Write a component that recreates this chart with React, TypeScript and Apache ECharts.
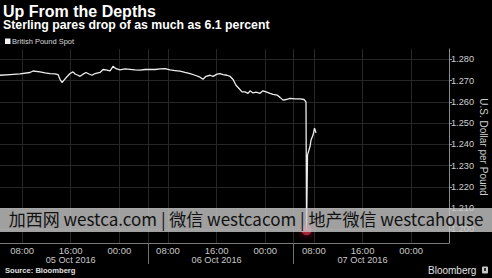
import React, { useEffect, useRef } from "react";
import * as echarts from "echarts";

// Hours counted from 00:00, 05 Oct 2016 (chart's local time)
const hours = [
  4.37, 6.02, 7.66, 9.31, 9.8, 10.95, 11.78, 12.6, 13.42, 13.91, 14.24, 14.57, 14.9, 15.23,
  15.89, 16.38, 16.71, 17.2, 17.53, 18.03, 18.52, 19.01, 19.51, 20.0, 20.82, 21.32, 21.97,
  22.47, 22.96, 23.45, 24.11, 24.93, 25.76, 26.58, 27.4, 28.22, 29.05, 29.87, 30.69, 31.51,
  32.34, 33.16, 33.98, 34.8, 35.63, 36.45, 37.27, 37.76, 38.26, 38.91, 39.41, 40.07, 40.56,
  41.05, 41.71, 42.2, 42.7, 43.19, 43.68, 44.18, 44.67, 45.17, 45.49, 45.99, 46.48, 47.14,
  47.63, 48.13, 48.78, 49.28, 49.93, 50.43, 50.92, 51.41, 52.07, 52.89, 53.72, 54.37, 54.7,
  54.79, 54.95, 55.36, 55.53, 55.86, 56.1, 56.35,
];
const prices = [
  1.2725, 1.2728, 1.2731, 1.2738, 1.2745, 1.2741, 1.2736, 1.2733, 1.2731, 1.2728, 1.2706,
  1.2691, 1.2702, 1.2713, 1.2733, 1.2741, 1.2731, 1.2725, 1.272, 1.273, 1.2738, 1.2731,
  1.2725, 1.2733, 1.2738, 1.2752, 1.2749, 1.2746, 1.2767, 1.2756, 1.275, 1.2755, 1.2753,
  1.275, 1.2749, 1.2752, 1.2753, 1.2752, 1.2755, 1.2756, 1.275, 1.2747, 1.2744, 1.2738,
  1.2733, 1.2725, 1.2716, 1.2706, 1.272, 1.2725, 1.272, 1.273, 1.2733, 1.2728, 1.2725,
  1.272, 1.2705, 1.2678, 1.2663, 1.2647, 1.2647, 1.264, 1.2652, 1.2642, 1.2646, 1.264,
  1.2652, 1.2647, 1.264, 1.2635, 1.2632, 1.2621, 1.2608, 1.2611, 1.2616, 1.2614, 1.2614,
  1.2611, 1.26, 1.1997, 1.2351, 1.239, 1.2421, 1.2444, 1.2476, 1.2454,
];
const lowHour = 54.79;
const lowPrice = 1.1997;

const yTicks = [1.2, 1.21, 1.22, 1.23, 1.24, 1.25, 1.26, 1.27, 1.28];
const xTicks = [8, 16, 24, 32, 40, 48, 56, 64, 72];
const timeLabels = ["08:00", "16:00", "00:00", "08:00", "16:00", "00:00", "08:00", "16:00", "00:00"];
const dateLabels = ["", "05 Oct 2016", "", "", "06 Oct 2016", "", "", "07 Oct 2016", ""];
const daySeparators = [28.7, 52.6];

const TITLE = "Up From the Depths";
const SUBTITLE = "Sterling pares drop of as much as 6.1 percent";
const SERIES_NAME = "British Pound Spot";
const Y_NAME = "U.S. Dollar per Pound";
const SOURCE = "Source: Bloomberg";
const WATERMARK = "加西网 westca.com | 微信 westcacom | 地产微信 westcahouse";

export default function App() {
  const ref = useRef<HTMLDivElement>(null);
  useEffect(() => {
    if (!ref.current) return;
    const chart = echarts.init(ref.current, null, { renderer: "svg" });
    const lineData = hours.map((h, i) => [h, prices[i]]);
    const gridColor = "#262626";
    const font = "'Liberation Sans', Arial, sans-serif";
    chart.setOption({
      animation: false,
      backgroundColor: "#000000",
      grid: { left: 0, right: 43, top: 49, bottom: 35, containLabel: false, outerBoundsMode: "none" },
      xAxis: {
        type: "value",
        min: 4.37,
        max: 78.22,
        position: "bottom",
        axisLine: { show: true, lineStyle: { color: "#7a7a7a", width: 1 } },
        axisTick: { show: true, customValues: daySeparators, length: 21, lineStyle: { color: "#707070" } },
        splitLine: { show: false },
        axisLabel: {
          customValues: xTicks,
          margin: 2,
          color: "#c8c8c8",
          fontFamily: font,
          formatter: (v: number) => {
            const i = xTicks.indexOf(Math.round(v));
            if (i < 0) return "";
            return dateLabels[i] ? `{t|${timeLabels[i]}}\n{d|${dateLabels[i]}}` : `{t|${timeLabels[i]}}`;
          },
          rich: {
            t: { fontSize: 9.5, lineHeight: 10, color: "#c8c8c8", fontFamily: font },
            d: { fontSize: 9.2, lineHeight: 10, color: "#c8c8c8", fontFamily: font },
          },
        },
      },
      yAxis: {
        type: "value",
        position: "right",
        min: 1.19365,
        max: 1.28484,
        axisLine: { show: true, lineStyle: { color: "#8a8a8a", width: 1 } },
        axisTick: { show: true, customValues: yTicks, length: 3, inside: false, lineStyle: { color: "#9a9a9a" } },
        splitLine: { show: false },
        axisLabel: {
          customValues: yTicks,
          margin: 2,
          color: "#cfcfcf",
          fontSize: 9.2,
          fontFamily: font,
          formatter: (v: number) => v.toFixed(3),
        },
      },
      series: [
        {
          name: SERIES_NAME,
          type: "line",
          data: lineData,
          showSymbol: false,
          symbol: "none",
          lineStyle: { color: "#ededed", width: 1.3 },
          z: 3,
          markLine: {
            silent: true,
            symbol: "none",
            label: { show: false },
            lineStyle: { color: gridColor, width: 1, type: "solid" },
            z: 1,
            data: [
              ...xTicks.map((x) => ({ xAxis: x })),
              ...daySeparators.map((x) => ({ xAxis: x })),
              ...yTicks.map((y) => ({ yAxis: y })),
            ],
          },
        },
        {
          type: "scatter",
          data: [[lowHour, lowPrice]],
          symbolSize: 10,
          itemStyle: { color: "rgba(225,50,80,0.85)", shadowBlur: 8, shadowColor: "rgba(255,30,70,0.9)" },
          z: 4,
        },
      ],
      graphic: [
        {
          type: "text", left: 3, top: 3, z: 100,
          style: { text: TITLE, fill: "#ffffff", font: `bold 16px ${font}` },
        },
        {
          type: "text", left: 3, top: 19, z: 100,
          style: { text: SUBTITLE, fill: "#ffffff", font: `bold 12.3px ${font}` },
        },
        { type: "rect", left: 5, top: 38.5, z: 100, shape: { width: 5.5, height: 5.5 }, style: { fill: "#f2f2f2" } },
        {
          type: "text", left: 12, top: 37, z: 100,
          style: { text: SERIES_NAME, fill: "#d8d8d8", font: `7.5px ${font}` },
        },
        {
          type: "text", x: 483, y: 147, rotation: -Math.PI / 2, z: 100,
          style: {
            text: Y_NAME, fill: "#cfcfcf", font: `10px ${font}`,
            textAlign: "center", textVerticalAlign: "middle",
          },
        },
        {
          type: "text", left: 5, top: 266.5, z: 100,
          style: { text: SOURCE, fill: "#e0e0e0", font: `bold 7.6px ${font}` },
        },
        {
          type: "text", left: 428, top: 265, z: 100,
          style: { text: "Bloomberg", fill: "#e0e0e0", font: `10px ${font}` },
        },
        { type: "rect", left: 482, top: 266.5, z: 100, shape: { width: 6, height: 7, r: 1 }, style: { fill: "#c8c8c8" } },
        { type: "rect", left: 484, top: 268, z: 101, shape: { width: 2, height: 3 }, style: { fill: "#333" } },
        {
          type: "rect", left: 0, top: 208, z: 100,
          shape: { width: 492, height: 24 },
          style: { fill: "rgba(200,200,200,0.8)" },
        },
        {
          type: "text", left: "center", top: 210, z: 101,
          style: { text: WATERMARK, fill: "#111111", font: `17px 'Noto Sans CJK SC', sans-serif` },
        },
      ],
    });
    return () => chart.dispose();
  }, []);
  return (
    <div
      ref={ref}
      style={{ position: "fixed", left: 0, top: 0, width: 492, height: 278, background: "#000" }}
    />
  );
}
